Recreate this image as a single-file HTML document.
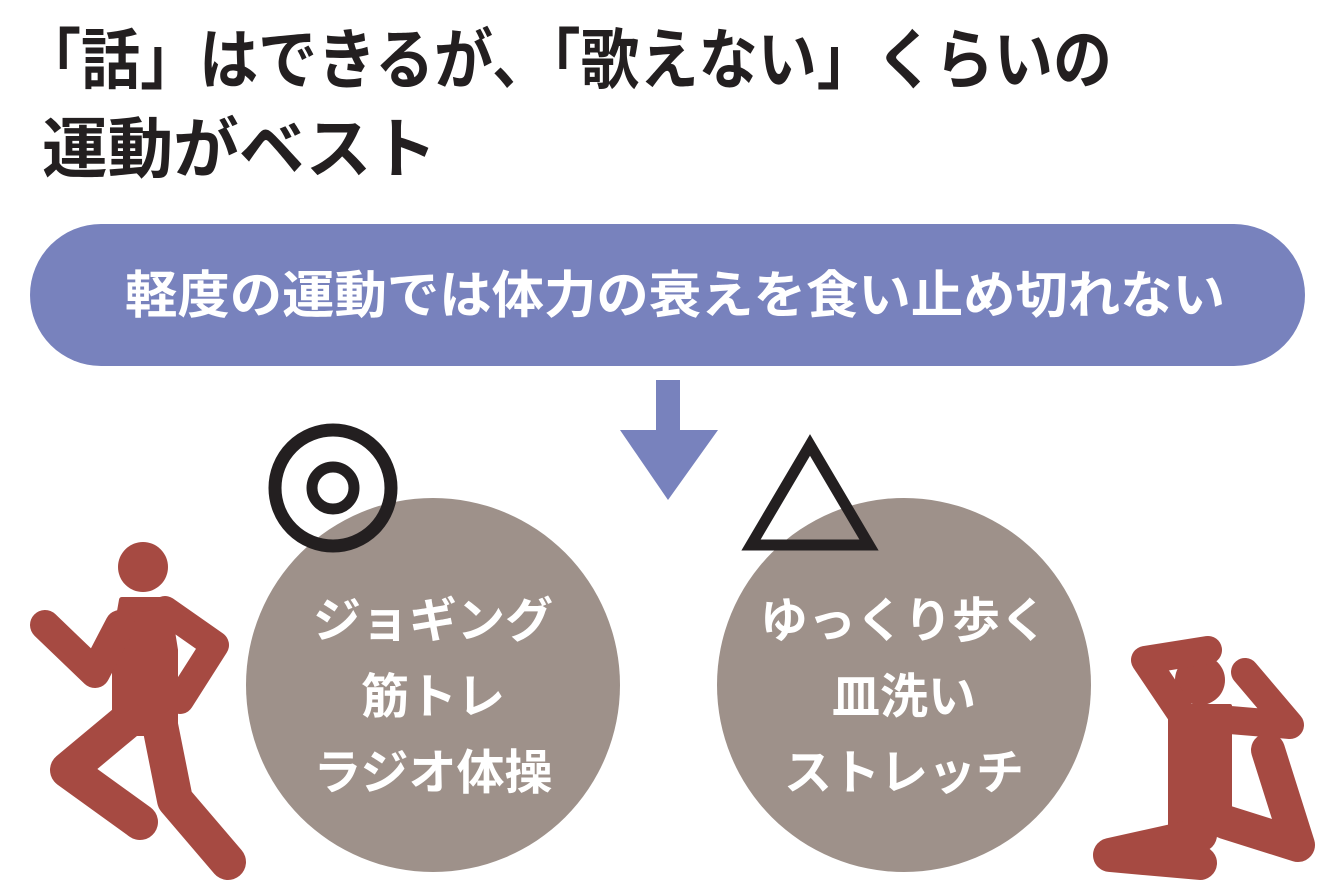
<!DOCTYPE html>
<html><head><meta charset="utf-8"><style>
html,body{margin:0;padding:0;background:#fff;}
svg{display:block;}
text{font-family:"Liberation Sans","Noto Sans CJK JP",sans-serif;font-weight:bold;}
</style></head><body>
<svg width="1340" height="892" viewBox="0 0 1340 892" xmlns="http://www.w3.org/2000/svg">
<text x="22" y="83" font-size="66" fill="#231f20" textLength="1090" lengthAdjust="spacingAndGlyphs">「話」はできるが、「歌えない」くらいの</text>
<text x="42" y="172" font-size="66" fill="#231f20" textLength="395" lengthAdjust="spacingAndGlyphs">運動がベスト</text>
<rect x="30" y="224" width="1275" height="142" rx="71" fill="#7882bd"/>
<text x="125" y="313" font-size="51" fill="#fff" textLength="1100" lengthAdjust="spacingAndGlyphs">軽度の運動では体力の衰えを食い止め切れない</text>
<rect x="656" y="380" width="24" height="52" fill="#7882bd"/>
<polygon points="620,430 718,430 668,500" fill="#7882bd"/>
<circle cx="433" cy="685" r="187" fill="#9e918a"/>
<circle cx="904" cy="685" r="187" fill="#9e918a"/>
<circle cx="333" cy="488" r="58" fill="none" stroke="#231f20" stroke-width="13"/>
<circle cx="333" cy="488" r="21" fill="none" stroke="#231f20" stroke-width="11"/>
<polygon points="810,445 751,545 869,545" fill="none" stroke="#231f20" stroke-width="11" stroke-linejoin="miter"/>
<g fill="#fff" font-size="48" text-anchor="middle">
<text x="433" y="637">ジョギング</text>
<text x="433" y="713">筋トレ</text>
<text x="433" y="789">ラジオ体操</text>
<text x="904" y="637">ゆっくり歩く</text>
<text x="904" y="713">皿洗い</text>
<text x="904" y="789">ストレッチ</text>
</g>
<g fill="#a64a42" stroke="#a64a42" stroke-linecap="round" stroke-linejoin="round">
<circle cx="143" cy="567" r="25" stroke="none"/>
<polygon points="122,600 167,600 175,650 175,733 115,733 115,640" stroke-width="6"/>
<polyline points="45,625 95,673 120,625" fill="none" stroke-width="30"/>
<polyline points="165,610 215,645 180,700" fill="none" stroke-width="28"/>
<polyline points="128,720 68,770 140,822" fill="none" stroke-width="36"/>
<polyline points="160,725 175,800 228,862" fill="none" stroke-width="36"/>
<circle cx="1200" cy="680" r="25" stroke="none"/>
<polyline points="1208,650 1145,660 1180,712" fill="none" stroke-width="28"/>
<polyline points="1245,672 1290,725 1230,720" fill="none" stroke-width="28"/>
<rect x="1170" y="706" width="60" height="125" stroke-width="4"/>
<polyline points="1200,835 1110,855 1200,863" fill="none" stroke-width="34"/>
<polyline points="1225,822 1298,845 1268,750" fill="none" stroke-width="34"/>
</g>
</svg>
</body></html>
